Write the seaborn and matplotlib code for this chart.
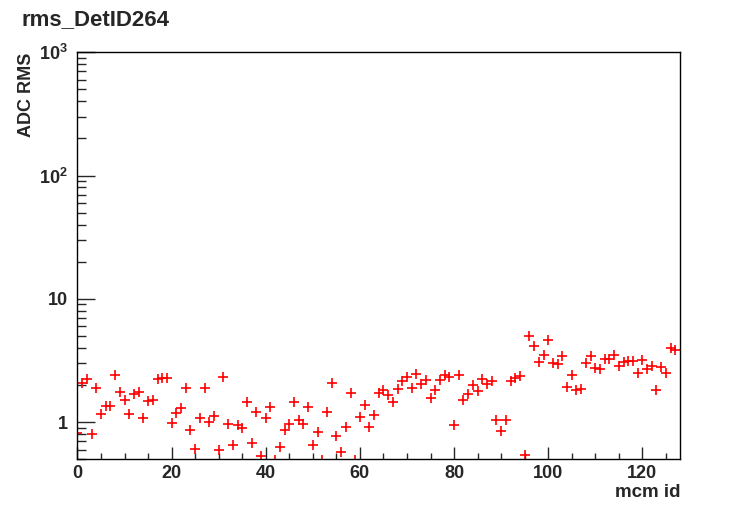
import numpy as np
import matplotlib
matplotlib.use('Agg')
import matplotlib.pyplot as plt
from matplotlib.ticker import MultipleLocator, LogLocator, NullFormatter
import seaborn as sns

sns.set_theme(style='ticks')
plt.rcParams['font.family'] = ['Liberation Sans', 'DejaVu Sans']
plt.rcParams['font.weight'] = 'bold'
plt.rcParams['mathtext.fontset'] = 'custom'
plt.rcParams['mathtext.rm'] = 'Liberation Sans:bold'
plt.rcParams['mathtext.bf'] = 'Liberation Sans:bold'
plt.rcParams['mathtext.default'] = 'bf'

# mcm id 0..127, rms per mcm
mcm_id = np.arange(128)
adc_rms = [
    0.81, 2.07, 2.24, 0.80, 1.89, 1.16, 1.36, 1.36, 2.42, 1.77,
    1.52, 1.16, 1.69, 1.77, 1.09, 1.49, 1.52, 2.23, 2.30, 2.26,
    0.98, 1.18, 1.30, 1.89, 0.87, 0.61, 1.08, 1.89, 1.01, 1.12,
    0.59, 2.32, 0.97, 0.65, 0.94, 0.90, 1.46, 0.68, 1.21, 0.53,
    1.08, 1.32, 0.49, 0.63, 0.87, 0.96, 1.46, 1.04, 0.96, 1.32,
    0.65, 0.84, 0.49, 1.22, 2.07, 0.77, 0.57, 0.92, 1.72, 0.49,
    1.10, 1.38, 0.92, 1.15, 1.72, 1.83, 1.66, 1.45, 1.85, 2.17,
    2.34, 1.89, 2.48, 2.05, 2.20, 1.58, 1.83, 2.20, 2.42, 2.32,
    0.94, 2.42, 1.50, 1.70, 2.01, 1.80, 2.23, 2.05, 2.14, 1.04,
    0.85, 1.04, 2.17, 2.27, 2.37, 0.54, 5.01, 4.15, 3.10, 3.52,
    4.65, 3.01, 2.97, 3.47, 1.94, 2.42, 1.83, 1.85, 3.01, 3.45,
    2.74, 2.69, 3.24, 3.24, 3.52, 2.83, 3.10, 3.16, 3.14, 2.50,
    3.20, 2.69, 2.86, 1.83, 2.79, 2.52, 3.98, 3.86,
]

fig = plt.figure(figsize=(7.56, 5.11), dpi=100)
ax = fig.add_axes([0.1025, 0.1012, 0.797, 0.7966])

sns.scatterplot(x=mcm_id, y=adc_rms, ax=ax, color='red', marker='+',
                s=60, linewidth=1.2, legend=False)

ax.set_yscale('log')
ax.set_xlim(0, 128)
ax.set_ylim(0.5, 1000)

ax.xaxis.set_major_locator(MultipleLocator(20))
ax.xaxis.set_minor_locator(MultipleLocator(5))
ax.set_yticks([1, 10, 100, 1000])
ax.set_yticklabels(['1', '10', r'$10^{2}$', r'$10^{3}$'])
ax.yaxis.set_minor_locator(LogLocator(base=10, subs=np.arange(2, 10)))
ax.yaxis.set_minor_formatter(NullFormatter())

ax.tick_params(axis='x', which='major', direction='in', length=9, width=1,
               labelsize=13, pad=4, top=False)
ax.tick_params(axis='x', which='minor', direction='in', length=4.3, width=1, top=False)
ax.tick_params(axis='y', which='major', direction='in', length=13, width=1,
               labelsize=13, pad=7, right=False)
ax.tick_params(axis='y', which='minor', direction='in', length=6.5, width=1, right=False)
for s in ax.spines.values():
    s.set_color('black')
    s.set_linewidth(1)

ax.set_xlabel('mcm id', fontsize=13.5, fontweight='bold', loc='right')
ax.xaxis.set_label_coords(1.0, -0.06)
ax.set_ylabel('ADC RMS', fontsize=13, fontweight='bold', loc='top')
ax.yaxis.set_label_coords(-0.07, 1.0)

fig.text(0.029, 0.961, 'rms_DetID264', fontsize=16, fontweight='bold',
         ha='left', va='center')

fig.savefig('out.png', dpi=100)
